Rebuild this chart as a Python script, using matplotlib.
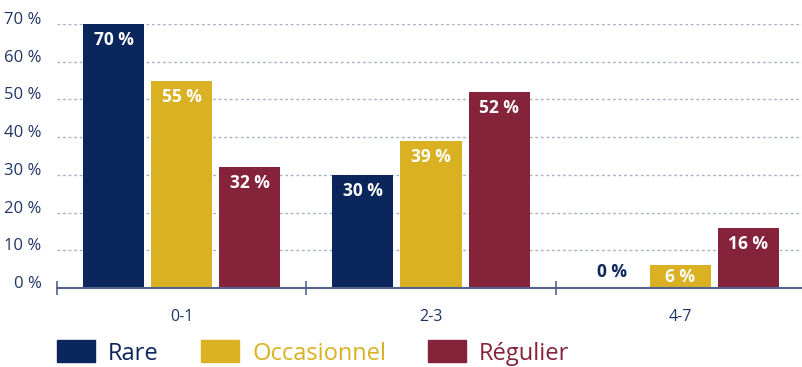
import numpy as np
import matplotlib
matplotlib.use("Agg")
import matplotlib.pyplot as plt
from matplotlib.patches import Rectangle
from matplotlib.transforms import ScaledTranslation

categories = ["0-1", "2-3", "4-7"]
series = ["Rare", "Occasionnel", "Régulier"]
rare = [70, 30, 0]
occasionnel = [55, 39, 6]
regulier = [32, 52, 16]

colors = ["#0b265c", "#d9b122", "#85233a"]
navy_text = "#1f3565"
axis_col = "#52628c"
grid_col = "#aab2c6"

plt.rcParams["font.family"] = ["Open Sans", "DejaVu Sans"]

W, H = 802, 367
fig = plt.figure(figsize=(W / 100, H / 100), dpi=100)
# axes spans 0..70 % vertically, one unit per age group horizontally
ax = fig.add_axes([57 / W, 1 - 288 / H, 748 / W, (288 - 24) / H])

x = np.arange(len(categories))
width = 0.245
step = 0.273
px_per_unit = (288 - 24) / 70

for i, (name, vals, col) in enumerate(zip(series, [rare, occasionnel, regulier], colors)):
    xs = x + (i - 1) * step
    bars = ax.bar(xs, vals, width, color=col, zorder=2)
    for b, v in zip(bars, vals):
        cx = b.get_x() + b.get_width() / 2
        if v == 0:
            ax.annotate(f"{v} %", (cx, 0), xytext=(0, 16 * 0.72), textcoords="offset points",
                        ha="center", va="center", color=colors[0], fontsize=12.5, fontweight="bold")
        else:
            off = min(16, v * px_per_unit / 2)
            ax.annotate(f"{v} %", (cx, v), xytext=(0, -off * 0.72), textcoords="offset points",
                        ha="center", va="center", color="white", fontsize=12.5, fontweight="bold")

ax.set_xlim(-0.5, 2.5)
ax.set_ylim(0, 70)

ax.set_yticks(np.arange(0, 71, 10))
ax.set_yticklabels([f"{t} %" for t in range(0, 71, 10)], fontsize=12, color=navy_text)
ax.tick_params(axis="y", length=0, pad=11)
shift = ScaledTranslation(0, 6 / 100, fig.dpi_scale_trans)
for lab in ax.get_yticklabels():
    lab.set_transform(lab.get_transform() + shift)

ax.yaxis.grid(True, color=grid_col, linestyle=(0, (2, 2)), linewidth=1)
ax.set_axisbelow(True)

ax.set_xticks([-0.5, 0.5, 1.5, 2.5])
ax.set_xticklabels([])
ax.tick_params(axis="x", which="major", direction="inout", length=10, width=1.2, color=axis_col)
ax.set_xticks(x, minor=True)
ax.set_xticklabels(categories, minor=True, fontsize=11.5, color=navy_text)
ax.tick_params(axis="x", which="minor", length=0, pad=15)

for s in ["top", "right", "left"]:
    ax.spines[s].set_visible(False)
ax.spines["bottom"].set_color(axis_col)
ax.spines["bottom"].set_linewidth(1.5)
ax.spines["bottom"].set_zorder(3)

# legend row along the bottom edge
legend_x = [57, 201, 428]
base = 360
for lx, name, col in zip(legend_x, series, colors):
    fig.add_artist(Rectangle((lx / W, 1 - (base + 2) / H), 38 / W, 22 / H,
                             transform=fig.transFigure, color=col))
    fig.text((lx + 51) / W, 1 - base / H, name, color=col, fontsize=17, va="baseline", ha="left")

fig.savefig("out.png", dpi=100)
